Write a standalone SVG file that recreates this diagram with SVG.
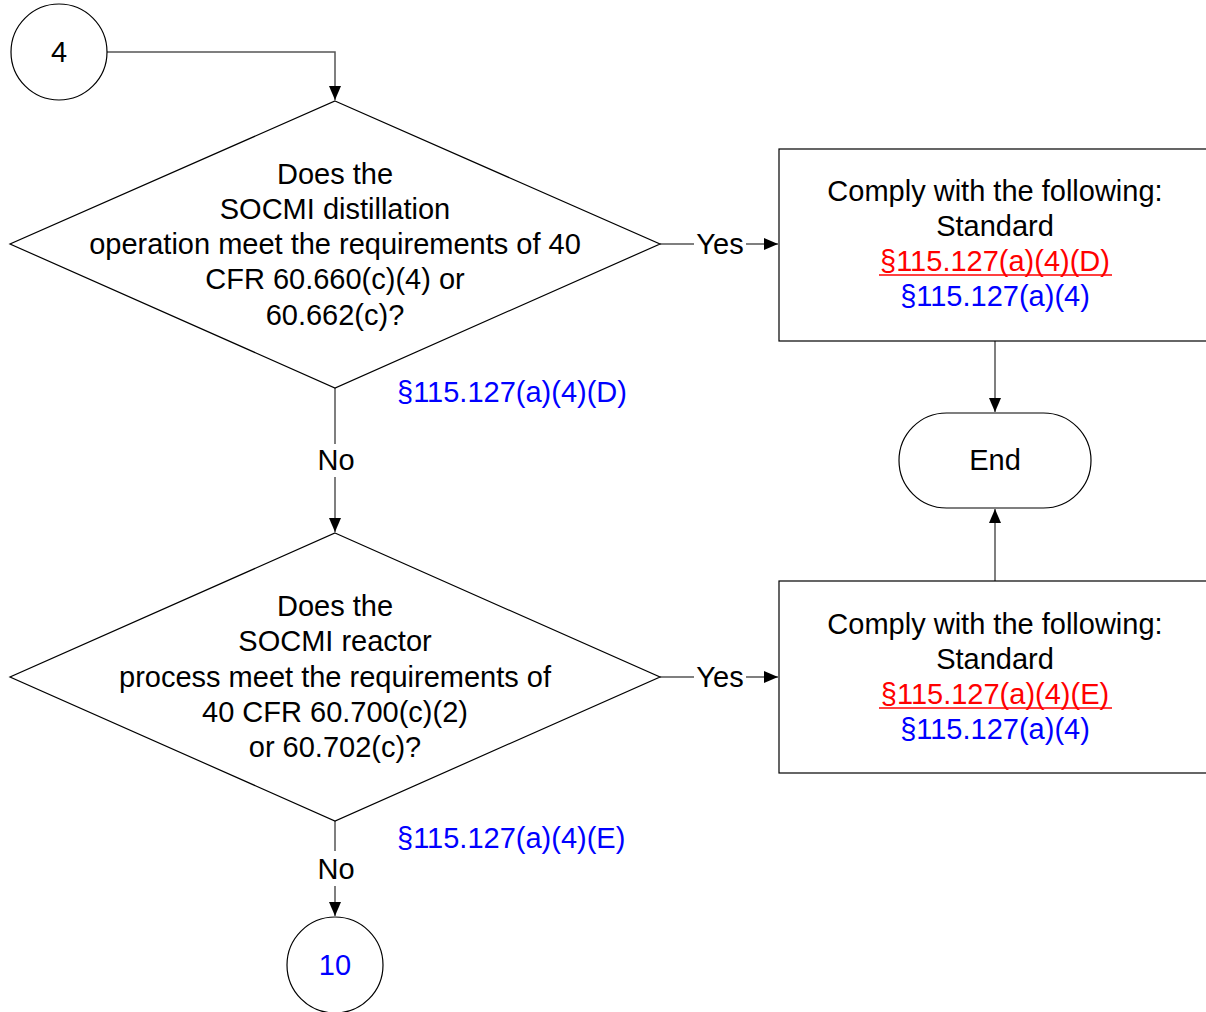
<svg xmlns="http://www.w3.org/2000/svg" width="1206" height="1012" viewBox="0 0 1206 1012">
<style>
.s{fill:#fff;stroke:#000;stroke-width:1.2}
.t{font-family:"Liberation Sans",Arial,sans-serif;font-size:29px;fill:#000;text-anchor:middle}
.b{fill:#0000ff}
.r{fill:#ff0000}
.u{stroke:#ff0000;stroke-width:1.5}
.c{fill:none;stroke:#555;stroke-width:1.5}
.l{text-anchor:start}
</style>
<defs>
<marker id="a" viewBox="0 0 14 14" refX="14" refY="7" markerWidth="14" markerHeight="14" markerUnits="userSpaceOnUse" orient="auto">
<path d="M0,1 L14,7 L0,13 z" fill="#000"/>
</marker>
</defs>
<rect width="1206" height="1012" fill="#fff"/>
<g id="connectors">
<path class="c" d="M107,52 H335 V100" marker-end="url(#a)"/>
<path class="c" d="M660,244 H694"/>
<path class="c" d="M746,244 H778" marker-end="url(#a)"/>
<path class="c" d="M335,388 V444"/>
<path class="c" d="M335,477 V532" marker-end="url(#a)"/>
<path class="c" d="M660,677 H694"/>
<path class="c" d="M746,677 H778" marker-end="url(#a)"/>
<path class="c" d="M335,821 V851"/>
<path class="c" d="M335,886 V916" marker-end="url(#a)"/>
<path class="c" d="M995,341 V412" marker-end="url(#a)"/>
<path class="c" d="M995,581 V509" marker-end="url(#a)"/>
<text class="t" x="720" y="254">Yes</text>
<text class="t" x="720" y="687">Yes</text>
<text class="t" x="336" y="470">No</text>
<text class="t" x="336" y="879">No</text>
<text class="t b l" x="397" y="402">§115.127(a)(4)(D)</text>
<text class="t b l" x="397" y="848">§115.127(a)(4)(E)</text>
</g>
<g id="start4">
<circle class="s" cx="59" cy="52" r="48"/>
<text class="t" x="59" y="62">4</text>
</g>
<g id="decision1">
<path class="s" d="M335,101 L660,244 L335,388 L10,244 Z"/>
<text class="t" x="335" y="184">Does the</text>
<text class="t" x="335" y="219">SOCMI distillation</text>
<text class="t" x="335" y="254">operation meet the requirements of 40</text>
<text class="t" x="335" y="289">CFR 60.660(c)(4) or</text>
<text class="t" x="335" y="325">60.662(c)?</text>
</g>
<g id="box1">
<rect class="s" x="779" y="149" width="440" height="192"/>
<text class="t" x="995" y="201">Comply with the following:</text>
<text class="t" x="995" y="236">Standard</text>
<text class="t r" x="995" y="271">§115.127(a)(4)(D)</text>
<line class="u" x1="879" y1="275" x2="1112" y2="275"/>
<text class="t b" x="995" y="306">§115.127(a)(4)</text>
</g>
<g id="end">
<rect class="s" x="899" y="413" width="192" height="95" rx="47.5" ry="47.5"/>
<text class="t" x="995" y="470">End</text>
</g>
<g id="decision2">
<path class="s" d="M335,533 L660,677 L335,821 L10,677 Z"/>
<text class="t" x="335" y="616">Does the</text>
<text class="t" x="335" y="651">SOCMI reactor</text>
<text class="t" x="335" y="687">process meet the requirements of</text>
<text class="t" x="335" y="722">40 CFR 60.700(c)(2)</text>
<text class="t" x="335" y="757">or 60.702(c)?</text>
</g>
<g id="box2">
<rect class="s" x="779" y="581" width="440" height="192"/>
<text class="t" x="995" y="634">Comply with the following:</text>
<text class="t" x="995" y="669">Standard</text>
<text class="t r" x="995" y="704">§115.127(a)(4)(E)</text>
<line class="u" x1="879" y1="708" x2="1112" y2="708"/>
<text class="t b" x="995" y="739">§115.127(a)(4)</text>
</g>
<g id="off10">
<circle class="s" cx="335" cy="965" r="48"/>
<text class="t b" x="335" y="975">10</text>
</g>
</svg>
